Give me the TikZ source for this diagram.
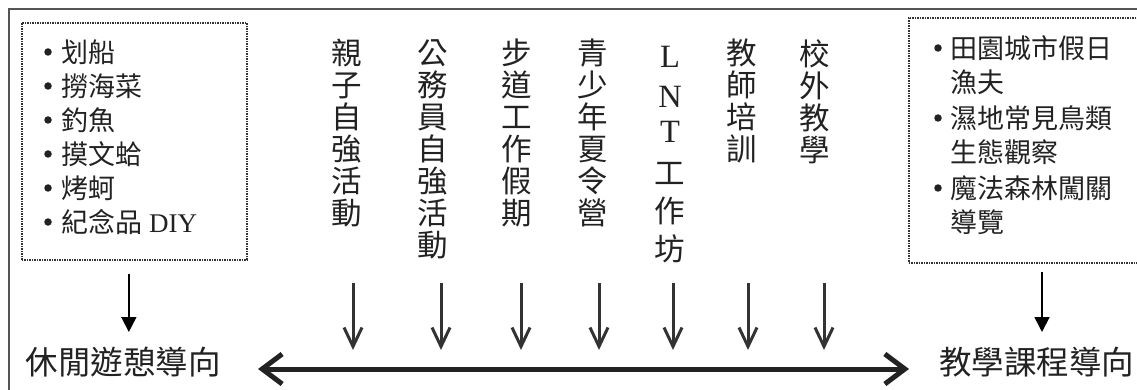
\documentclass[tikz,border=0pt]{standalone}
\usepackage{fontspec}
\setmainfont{Liberation Serif}
\newfontfamily\cjk{Noto Sans CJK TC}
\usetikzlibrary{arrows.meta}
\definecolor{framegray}{HTML}{555555}
\definecolor{ink}{HTML}{222222}
\definecolor{arrgray}{HTML}{333333}
\begin{document}
\begin{tikzpicture}[x=1pt,y=-1pt,
  dotbox/.style={draw=arrgray, line width=1.7pt, dash pattern=on 1.4pt off 1.1pt, inner sep=0, anchor=north west},
  item/.style={anchor=west, inner sep=0, font=\cjk\fontsize{27}{32}\selectfont, text=ink},
  bul/.style={circle, fill=ink, inner sep=0, minimum size=7.5pt},
  vcol/.style={anchor=north, inner sep=0, align=center, font=\cjk\fontsize{30.5}{32}\selectfont, text=ink},
  lab/.style={anchor=west, inner sep=0, font=\cjk\fontsize{32.5}{36}\selectfont, text=ink},
  boxarrow/.style={draw=black, line width=1.8pt, -{Triangle[length=15pt,width=15pt]}},
  varrow/.style={draw=arrgray, line width=3pt, -{Straight Barb[length=19pt,width=18pt]}},
  mainarrow/.style={draw=ink, line width=5pt, {Straight Barb[length=20pt,width=30pt]}-{Straight Barb[length=20pt,width=30pt]}},
]
\newcommand{\latL}[1]{{\rmfamily\fontsize{32.5}{32}\selectfont #1}}
\useasboundingbox (0,0) rectangle (1137,390);
\clip (0,0) rectangle (1137,390);
\draw[framegray, line width=1.2pt] (9,9) rectangle (1160,410);

% left box
\node[dotbox, minimum width=225pt, minimum height=237pt] (lbox) at (21,22) {};
\node[bul] (lb1) at (48,52) {};
\node[item] (li1) at (61,52) {划船};
\node[bul] (lb2) at (48,86) {};
\node[item] (li2) at (61,86) {撈海菜};
\node[bul] (lb3) at (48,120) {};
\node[item] (li3) at (61,120) {釣魚};
\node[bul] (lb4) at (48,154) {};
\node[item] (li4) at (61,154) {摸文蛤};
\node[bul] (lb5) at (48,188) {};
\node[item] (li5) at (61,188) {烤蚵};
\node[bul] (lb6) at (48,222) {};
\node[item] (li6) at (61,222) {紀念品\hspace{7pt}{\rmfamily DIY}};

% right box
\node[dotbox, minimum width=240pt, minimum height=245pt] (rbox) at (908,17) {};
\node[bul] (rb1) at (938,48) {};
\node[item] (ri1) at (950,48) {田園城市假日};
\node[item] (ri2) at (950,82) {漁夫};
\node[bul] (rb3) at (938,118) {};
\node[item] (ri3) at (950,118) {濕地常見鳥類};
\node[item] (ri4) at (950,152) {生態觀察};
\node[bul] (rb5) at (938,188) {};
\node[item] (ri5) at (950,188) {魔法森林闖關};
\node[item] (ri6) at (950,222) {導覽};

% bottom labels
\node[lab] (llab) at (25.5,362) {休閒遊憩導向};
\node[lab] (rlab) at (939,362) {教學課程導向};

% vertical columns
\node[vcol] (c1) at (347,39) {親\\子\\自\\強\\活\\動};
\node[vcol] (c2) at (433,39) {公\\務\\員\\自\\強\\活\\動};
\node[vcol] (c3) at (517,39) {步\\道\\工\\作\\假\\期};
\node[vcol] (c4) at (593,39) {青\\少\\年\\夏\\令\\營};
\node[vcol] (c5) at (670,46) {\latL{L}\\[8pt]\latL{N}\\[3pt]\latL{T}\\[10pt]工\\[6pt]作\\[6pt]坊};
\node[vcol] (c6) at (742,39) {教\\師\\培\\訓};
\node[vcol] (c7) at (815,39) {校\\外\\教\\學};

% box arrows
\draw[boxarrow] ([xshift=-5.5pt,yshift=-13pt]lbox.south) -- ([xshift=-5.5pt]lbox.south |- 0,332);
\coordinate (rtop) at (1042,272);
\coordinate (rend) at (1042,332);
\draw[boxarrow] (rtop) -- (rend);

% main arrow
\coordinate (ml) at (258,369);
\coordinate (mr) at (909,369);
\draw[mainarrow] (ml) -- (mr);

% vertical arrows
\foreach \i/\x in {1/353,2/441,3/521,4/599,5/673,6/748,7/824}{
  \coordinate (t\i) at (\x,283);
  \coordinate (e\i) at (\x,350);
  \draw[varrow] (t\i) -- (e\i);
}
\end{tikzpicture}
\end{document}
